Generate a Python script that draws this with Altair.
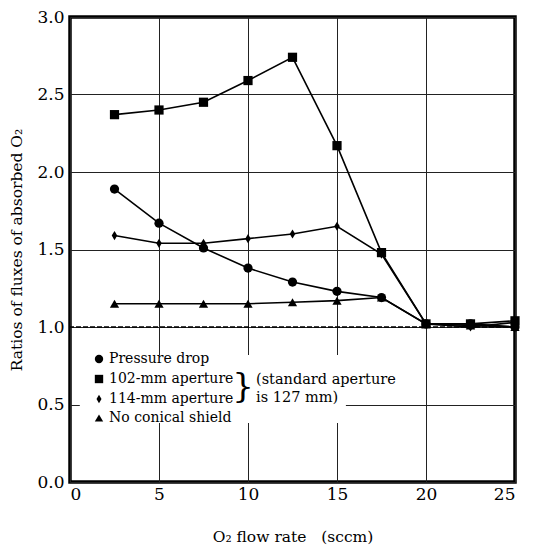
import altair as alt
import pandas as pd

flow = [2.5, 5, 7.5, 10, 12.5, 15, 17.5, 20, 22.5, 25]
pressure_drop = [1.89, 1.67, 1.51, 1.38, 1.29, 1.23, 1.19, 1.02, 1.02, 1.00]
ap102 = [2.37, 2.40, 2.45, 2.59, 2.74, 2.17, 1.48, 1.02, 1.02, 1.04]
ap114 = [1.59, 1.54, 1.54, 1.57, 1.60, 1.65, 1.47, 1.02, 1.00, 1.03]
no_shield = [1.15, 1.15, 1.15, 1.15, 1.16, 1.17, 1.19, 1.02, 1.01, 1.00]

series_names = ["Pressure drop", "102-mm aperture", "114-mm aperture", "No conical shield"]
series_values = [pressure_drop, ap102, ap114, no_shield]
shapes = ["circle", "square", "M0,-1L0.6,0L0,1L-0.6,0Z", "triangle-up"]

rows = []
for name, vals in zip(series_names, series_values):
    for x, y in zip(flow, vals):
        rows.append({"flow": x, "ratio": y, "series": name})
df = pd.DataFrame(rows)

FONT = "DejaVu Serif"

xscale = alt.Scale(domain=[0, 25], nice=False, zero=False)
yscale = alt.Scale(domain=[0, 3], nice=False)

xax = alt.Axis(values=[0, 5, 10, 15, 20, 25], title="O\u2082 flow rate\u00a0\u00a0\u00a0(sccm)",
               grid=True, gridColor="#222", gridWidth=1, ticks=False, domain=False,
               labelFont=FONT, labelFontSize=17, labelColor="black", labelPadding=4,
               titleFont=FONT, titleFontSize=15.5, titleFontWeight="normal", titleColor="black",
               titlePadding=27)
yax = alt.Axis(values=[0, 0.5, 1, 1.5, 2, 2.5, 3], format=".1f", title="Ratios of fluxes of absorbed O\u2082",
               grid=True, gridColor="#222", gridWidth=1, ticks=False, domain=False,
               labelFont=FONT, labelFontSize=17, labelColor="black", labelPadding=6,
               titleFont=FONT, titleFontSize=15.5, titleFontWeight="normal", titleColor="black",
               titlePadding=12)

base = alt.Chart(df)

# white legend backdrop (covers grid lines)
box = pd.DataFrame({"x1": [0.55], "x2": [15.5], "y1": [0.38], "y2": [0.82]})
backdrop = alt.Chart(box).mark_rect(color="white").encode(
    x=alt.X("x1:Q", scale=xscale, axis=xax), x2="x2:Q",
    y=alt.Y("y1:Q", scale=yscale, axis=yax), y2="y2:Q")

ref = alt.Chart(pd.DataFrame({"y": [1.0]})).mark_rule(color="black", strokeWidth=1.6, strokeDash=[5, 2]).encode(
    y=alt.Y("y:Q", scale=yscale))

lines = base.mark_line(color="black", strokeWidth=1.6).encode(
    x=alt.X("flow:Q", scale=xscale),
    y=alt.Y("ratio:Q", scale=yscale),
    detail="series:N",
    order="flow:Q")

points = base.mark_point(filled=True, color="black", opacity=1, size=85).encode(
    x=alt.X("flow:Q", scale=xscale),
    y=alt.Y("ratio:Q", scale=yscale),
    shape=alt.Shape("series:N", sort=series_names,
                    scale=alt.Scale(domain=series_names, range=shapes),
                    legend=alt.Legend(orient="none", legendX=22, legendY=335, title=None,
                                      labelFont=FONT, labelFontSize=14, labelColor="black",
                                      symbolFillColor="black", symbolStrokeColor="black",
                                      symbolSize=70, labelOffset=3, rowPadding=4, padding=0)))

notes = pd.DataFrame({"x": [9.72, 10.45, 10.45], "y": [0.61, 0.66, 0.545],
                      "txt": ["}", "(standard aperture", "is 127 mm)"]})
brace = alt.Chart(notes.iloc[[0]]).mark_text(font=FONT, fontSize=34, color="black", align="center", baseline="middle").encode(
    x=alt.X("x:Q", scale=xscale), y=alt.Y("y:Q", scale=yscale), text="txt:N")
note_txt = alt.Chart(notes.iloc[1:]).mark_text(font=FONT, fontSize=14.5, color="black", align="left", baseline="middle").encode(
    x=alt.X("x:Q", scale=xscale), y=alt.Y("y:Q", scale=yscale), text="txt:N")

chart = alt.layer(backdrop, ref, lines, points, brace, note_txt).properties(
    width=445, height=465,
    autosize=alt.AutoSizeParams(type="none"),
    padding={"left": 62, "top": 9, "right": 20, "bottom": 70},
    background="white",
).configure_view(stroke="black", strokeWidth=3.5)

chart.save("out.html", embed_options={"renderer": "svg", "actions": False})
